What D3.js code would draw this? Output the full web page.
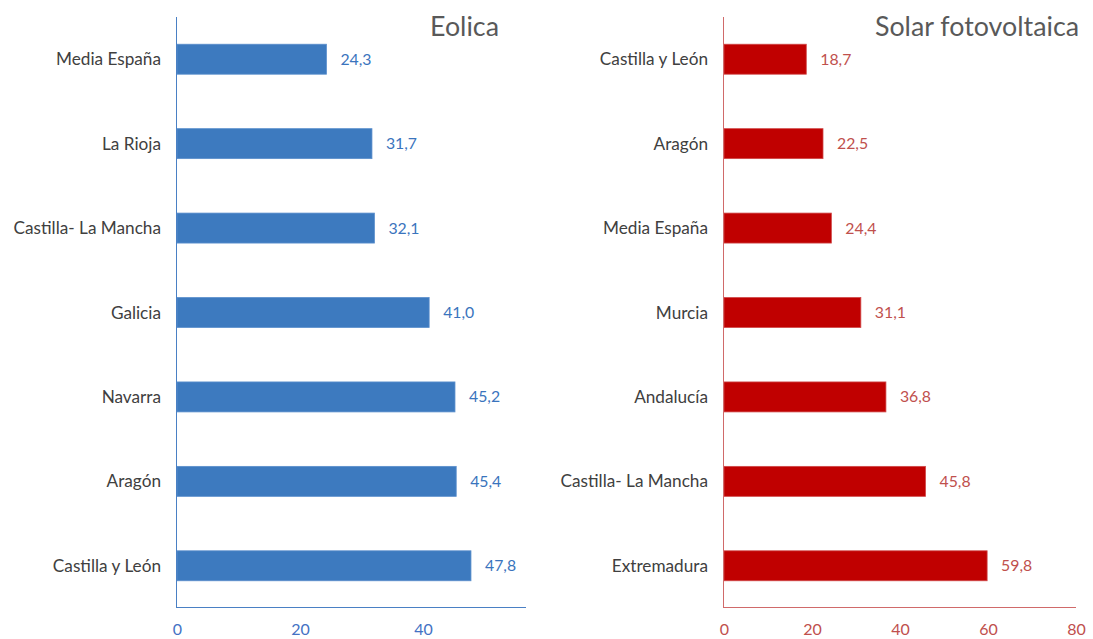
<!DOCTYPE html>
<html><head><meta charset="utf-8">
<script src="https://cdn.jsdelivr.net/npm/d3@7"></script>
<style>body{margin:0;background:#fff;} svg{display:block;font-family:Lato,"Liberation Sans",sans-serif;}</style>
</head><body>
<svg id="c" width="1093" height="639"></svg>
<script>
const eolicaCategories = ["Media España","La Rioja","Castilla- La Mancha","Galicia","Navarra","Aragón","Castilla y León"];
const eolicaValues = [24.3,31.7,32.1,41.0,45.2,45.4,47.8];
const solarCategories = ["Castilla y León","Aragón","Media España","Murcia","Andalucía","Castilla- La Mancha","Extremadura"];
const solarValues = [18.7,22.5,24.4,31.1,36.8,45.8,59.8];
const eolicaTicks = [0,20,40];
const solarTicks = [0,20,40,60,80];

const svg = d3.select("#c");
const fmt = v => v.toFixed(1).replace(".", ",");

function panel(o){
  const g = svg.append("g");
  const y = d3.scaleBand().domain(o.cats).range([17,608]).paddingInner(0.645).paddingOuter(0.3225);
  const x = d3.scaleLinear().domain(o.domain).range(o.range);
  g.selectAll("rect").data(o.vals).join("rect")
    .attr("x", x(0)).attr("y",(d,i)=>y(o.cats[i]))
    .attr("width", d=>x(d)-x(0)).attr("height", y.bandwidth())
    .attr("fill", o.bar).attr("stroke", o.barEdge).attr("stroke-width",0.8);
  g.selectAll("text.val").data(o.vals).join("text").attr("class","val")
    .attr("x", d=>x(d)+14).attr("y",(d,i)=>y(o.cats[i])+y.bandwidth()/2)
    .attr("dy","0.35em").attr("fill", o.label).style("font-size","15.8px").text(fmt);
  g.selectAll("text.cat").data(o.cats).join("text").attr("class","cat")
    .attr("x", x(0)-16).attr("y", d=>y(d)+y.bandwidth()/2)
    .attr("dy","0.35em").attr("text-anchor","end").attr("fill","#404040").style("font-size","17.2px").text(d=>d);
  // axis lines
  g.append("line").attr("x1",x(0)-0.5).attr("x2",x(0)-0.5).attr("y1",17).attr("y2",608).attr("stroke",o.axis).attr("stroke-width",1);
  g.append("line").attr("x1",x(0)-0.5).attr("x2",o.axisEnd).attr("y1",607.5).attr("y2",607.5).attr("stroke",o.axis).attr("stroke-width",1);
  const ax = g.append("g").attr("transform","translate(0,635)")
    .call(d3.axisBottom(x).tickValues(o.ticks).tickSize(0).tickPadding(0).tickFormat(d3.format("d")));
  ax.select(".domain").remove();
  ax.selectAll("text").attr("fill",o.tick).style("font-size","16px").style("font-family","Lato,'Liberation Sans',sans-serif").attr("dy","0");
  g.append("text").attr("x",o.titleX).attr("y",36).attr("text-anchor","end")
    .attr("fill","#595959").style("font-size","26.8px").text(o.title);
}

panel({cats:eolicaCategories, vals:eolicaValues, ticks:eolicaTicks, domain:[0,20], range:[177,300],
  bar:"#3d7abf", barEdge:"#5b8fcc", label:"#3a74bd", axis:"#4a80c4", tick:"#4472c4", axisEnd:526, title:"Eolica", titleX:499});
panel({cats:solarCategories, vals:solarValues, ticks:solarTicks, domain:[0,80], range:[724,1076],
  bar:"#c00000", barEdge:"#d04848", label:"#c0504d", axis:"#d06a6a", tick:"#c0504d", axisEnd:1076, title:"Solar fotovoltaica", titleX:1079});
</script>
</body></html>
